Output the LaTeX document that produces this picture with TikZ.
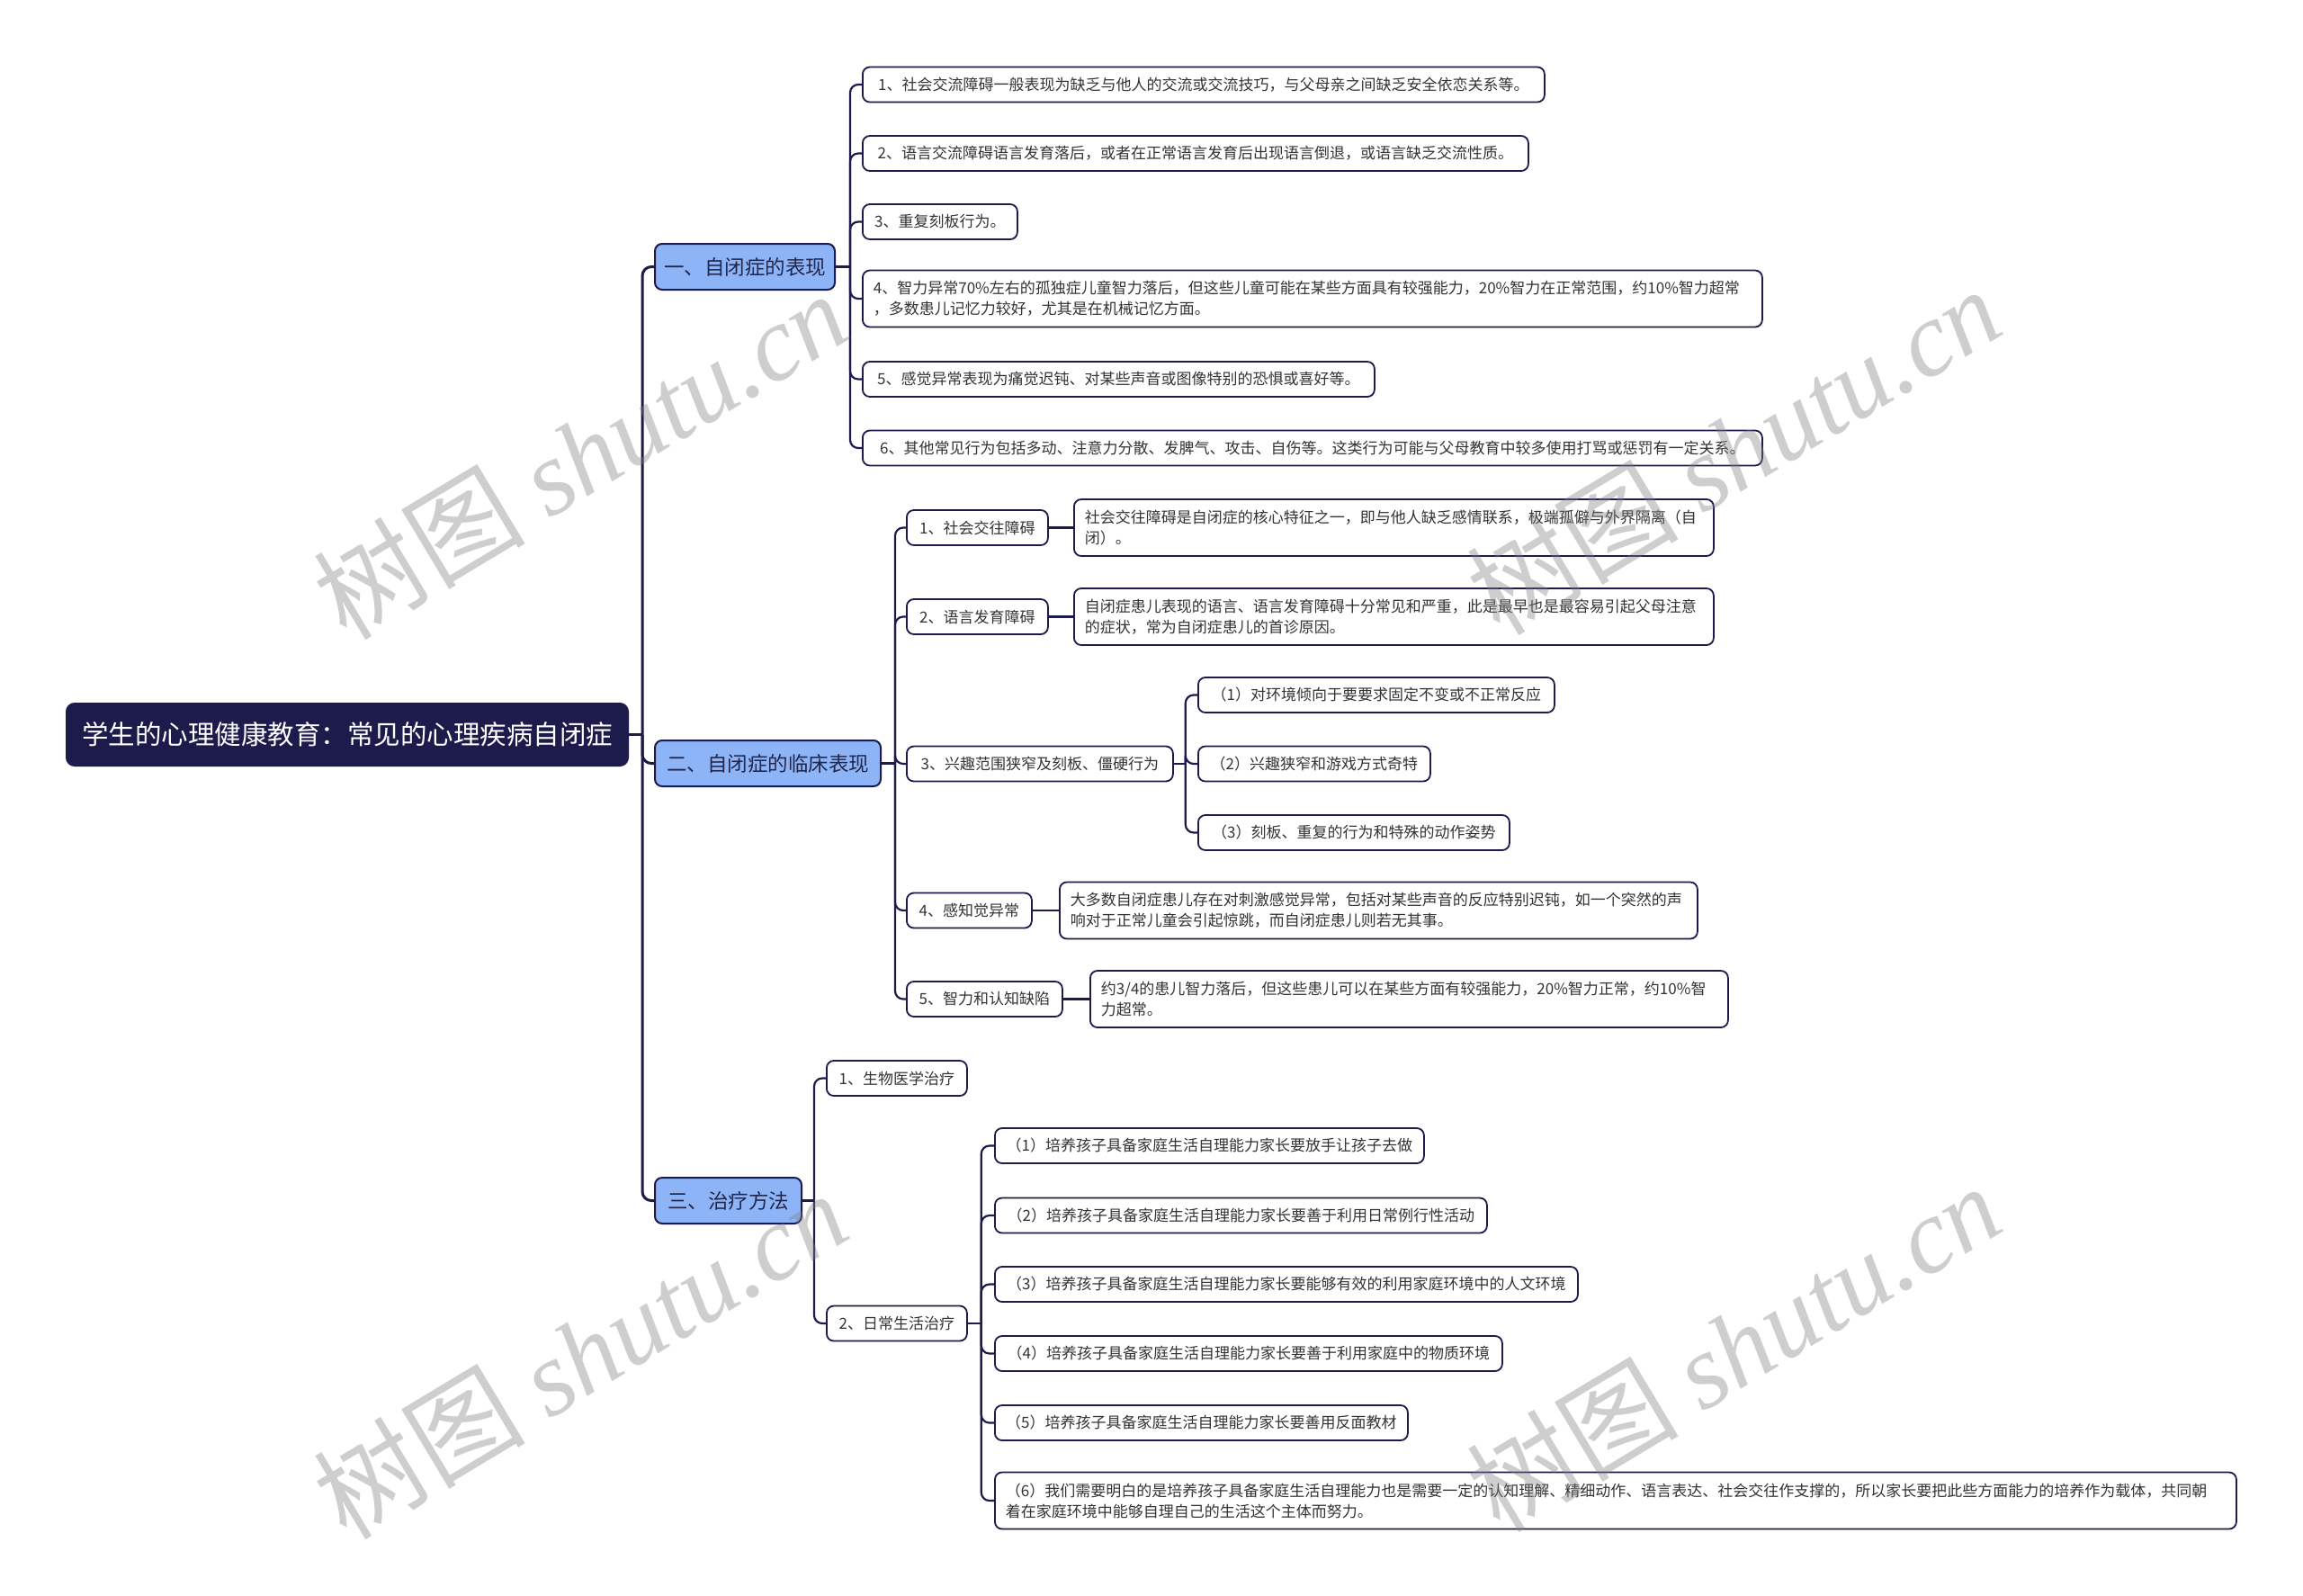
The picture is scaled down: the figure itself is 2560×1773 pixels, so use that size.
\documentclass[tikz,border=0pt]{standalone}
\usepackage{fontspec}
\setmainfont{Noto Sans CJK SC}
\newfontfamily\wmserif{Liberation Serif}
\newfontfamily\wmcjk{Noto Sans CJK SC}
\definecolor{navy}{HTML}{1D1B4C}
\definecolor{lvlblue}{HTML}{8DB4F7}
\definecolor{txt}{HTML}{333333}
\definecolor{lvltxt}{HTML}{22264A}
\tikzset{
  rootbox/.style={fill=navy, draw=navy, line width=2, rounded corners=9, text=white,
    font=\fontsize{29.5}{34}\selectfont, minimum height=69, inner xsep=0, inner ysep=0, anchor=west},
  lonebox/.style={fill=lvlblue, draw=navy, line width=2, rounded corners=8, text=lvltxt,
    font=\fontsize{22.5}{27}\selectfont, minimum height=51, inner xsep=0, inner ysep=0, anchor=west},
  leaf/.style={fill=white, draw=navy, line width=1.8, rounded corners=8, text=txt,
    font=\fontsize{17}{23}\selectfont, minimum height=39, inner xsep=12, inner ysep=0, anchor=west},
  tall/.style={leaf, minimum height=63, align=left},
  conn/.style={draw=navy, line width=2.2, rounded corners=9},
  conntop/.style={draw=navy, line width=3, rounded corners=10},
  wm/.style={rotate=31, text=gray, opacity=0.38, font=\fontsize{118}{118}\selectfont}
}
\begin{document}
\begin{tikzpicture}[x=1pt,y=-1pt]
\useasboundingbox (0,0) rectangle (2560,1773);
\fill[white] (0,0) rectangle (2560,1773);

% root and level 1
\node[rootbox, minimum width=624] (root) at (73,816.5) {学生的心理健康教育：常见的心理疾病自闭症};
\node[lonebox, minimum width=200] (A) at (727,296.5) {一、自闭症的表现};
\node[lonebox, minimum width=251] (B) at (727,848.5) {二、自闭症的临床表现};
\node[lonebox, minimum width=163] (C) at (727,1334.5) {三、治疗方法};

% group A
\node[leaf, minimum width=758] (a1) at (958,94) {1、社会交流障碍一般表现为缺乏与他人的交流或交流技巧，与父母亲之间缺乏安全依恋关系等。};
\node[leaf, minimum width=740] (a2) at (958,170.5) {2、语言交流障碍语言发育落后，或者在正常语言发育后出现语言倒退，或语言缺乏交流性质。};
\node[leaf, minimum width=172] (a3) at (958,246.5) {3、重复刻板行为。};
\node[tall, text width=976] (a4) at (958,332) {4、智力异常70\%左右的孤独症儿童智力落后，但这些儿童可能在某些方面具有较强能力，20\%智力在正常范围，约10\%智力超常\\，多数患儿记忆力较好，尤其是在机械记忆方面。};
\node[leaf, minimum width=569] (a5) at (958,421.5) {5、感觉异常表现为痛觉迟钝、对某些声音或图像特别的恐惧或喜好等。};
\node[leaf, minimum width=1000] (a6) at (958,498) {6、其他常见行为包括多动、注意力分散、发脾气、攻击、自伤等。这类行为可能与父母教育中较多使用打骂或惩罚有一定关系。};

% group B
\node[leaf, minimum width=157] (b1) at (1007,586.5) {1、社会交往障碍};
\node[tall, text width=687] (b1d) at (1193,586.5) {社会交往障碍是自闭症的核心特征之一，即与他人缺乏感情联系，极端孤僻与外界隔离（自\\闭）。};
\node[leaf, minimum width=157] (b2) at (1007,685.5) {2、语言发育障碍};
\node[tall, text width=687] (b2d) at (1193,685.5) {自闭症患儿表现的语言、语言发育障碍十分常见和严重，此是最早也是最容易引起父母注意\\的症状，常为自闭症患儿的首诊原因。};
\node[leaf, minimum width=296] (b3) at (1007,849) {3、兴趣范围狭窄及刻板、僵硬行为};
\node[leaf, minimum width=396] (c1) at (1331,772.5) {（1）对环境倾向于要要求固定不变或不正常反应};
\node[leaf, minimum width=258] (c2) at (1331,849) {（2）兴趣狭窄和游戏方式奇特};
\node[leaf, minimum width=346] (c3) at (1331,925.5) {（3）刻板、重复的行为和特殊的动作姿势};
\node[leaf, minimum width=139] (b4) at (1007,1012) {4、感知觉异常};
\node[tall, text width=685] (b4d) at (1177,1012) {大多数自闭症患儿存在对刺激感觉异常，包括对某些声音的反应特别迟钝，如一个突然的声\\响对于正常儿童会引起惊跳，而自闭症患儿则若无其事。};
\node[leaf, minimum width=173] (b5) at (1007,1110.5) {5、智力和认知缺陷};
\node[tall, text width=685] (b5d) at (1211,1110.5) {约3/4的患儿智力落后，但这些患儿可以在某些方面有较强能力，20\%智力正常，约10\%智\\力超常。};

% group C
\node[leaf, minimum width=156] (d1) at (918,1198.5) {1、生物医学治疗};
\node[leaf, minimum width=156] (d2) at (918,1471) {2、日常生活治疗};
\node[leaf, minimum width=477] (e1) at (1105,1273.5) {（1）培养孩子具备家庭生活自理能力家长要放手让孩子去做};
\node[leaf, minimum width=547] (e2) at (1105,1351) {（2）培养孩子具备家庭生活自理能力家长要善于利用日常例行性活动};
\node[leaf, minimum width=648] (e3) at (1105,1427.5) {（3）培养孩子具备家庭生活自理能力家长要能够有效的利用家庭环境中的人文环境};
\node[leaf, minimum width=564] (e4) at (1105,1504.5) {（4）培养孩子具备家庭生活自理能力家长要善于利用家庭中的物质环境};
\node[leaf, minimum width=459] (e5) at (1105,1581.5) {（5）培养孩子具备家庭生活自理能力家长要善用反面教材};
\node[tall, text width=1356] (e6) at (1105,1668) {（6）我们需要明白的是培养孩子具备家庭生活自理能力也是需要一定的认知理解、精细动作、语言表达、社会交往作支撑的，所以家长要把此些方面能力的培养作为载体，共同朝\\着在家庭环境中能够自理自己的生活这个主体而努力。};

% junction coordinates
\coordinate (jr) at ([xshift=15pt]root.east);
\coordinate (jA) at ([xshift=16pt]A.east);
\coordinate (jB) at ([xshift=15pt]B.east);
\coordinate (jC) at ([xshift=13pt]C.east);
\coordinate (jb3) at ([xshift=13pt]b3.east);
\coordinate (jd2) at ([xshift=15pt]d2.east);

% connectors
\draw[conntop] (root.east) -- (jr);
\foreach \c in {A,B,C} \draw[conntop] (jr) |- (\c.west);
\draw[conn] (A.east) -- (jA);
\foreach \c in {a1,a2,a3,a4,a5,a6} \draw[conn] (jA) |- (\c.west);
\draw[conn] (B.east) -- (jB);
\foreach \c in {b1,b2,b3,b4,b5} \draw[conn] (jB) |- (\c.west);
\draw[conn] (b1.east) -- (b1d.west);
\draw[conn] (b2.east) -- (b2d.west);
\draw[conn] (b4.east) -- (b4d.west);
\draw[conn] (b5.east) -- (b5d.west);
\draw[conn] (b3.east) -- (jb3);
\foreach \c in {c1,c2,c3} \draw[conn] (jb3) |- (\c.west);
\draw[conn] (C.east) -- (jC);
\foreach \c in {d1,d2} \draw[conn] (jC) |- (\c.west);
\draw[conn] (d2.east) -- (jd2);
\foreach \c in {e1,e2,e3,e4,e5,e6} \draw[conn] (jd2) |- (\c.west);

% watermarks
\node[wm] (w1) at (645,505) {{\wmcjk 树图} {\wmserif\itshape shutu.cn}};
\node[wm] (w2) at (1927,500) {{\wmcjk 树图} {\wmserif\itshape shutu.cn}};
\node[wm] (w3) at (645,1505) {{\wmcjk 树图} {\wmserif\itshape shutu.cn}};
\node[wm] (w4) at (1927,1497) {{\wmcjk 树图} {\wmserif\itshape shutu.cn}};
\end{tikzpicture}
\end{document}
